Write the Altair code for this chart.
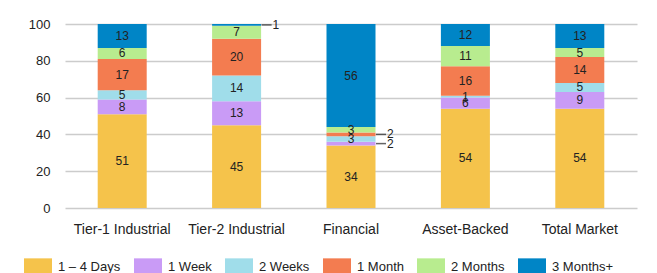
import altair as alt
import pandas as pd

categories = ["Tier-1 Industrial", "Tier-2 Industrial", "Financial", "Asset-Backed", "Total Market"]
series = ["1 – 4 Days", "1 Week", "2 Weeks", "1 Month", "2 Months", "3 Months+"]
colors = ["#F5C34B", "#C99BF6", "#A0DDEA", "#F37C50", "#B8EC8F", "#0085C6"]

days_1_4 = [51, 45, 34, 54, 54]
week_1 = [8, 13, 2, 6, 9]
weeks_2 = [5, 14, 3, 1, 5]
month_1 = [17, 20, 2, 16, 14]
months_2 = [6, 7, 3, 11, 5]
months_3 = [13, 1, 56, 12, 13]
y_ticks = [0, 20, 40, 60, 80, 100]

# (category, series) pairs whose label sits outside the bar with a leader line
outside = [("Tier-2 Industrial", "3 Months+"), ("Financial", "1 Month"), ("Financial", "1 Week")]

values = [days_1_4, week_1, weeks_2, month_1, months_2, months_3]
rows = []
for si, s in enumerate(series):
    for ci, c in enumerate(categories):
        rows.append({"cat": c, "series": s, "value": values[si][ci], "ord": si,
                     "out": 1 if (c, s) in outside else 0})
df = pd.DataFrame(rows)

FONT = "Liberation Sans"
sym = "M-1,-0.65H1V0.65H-1Z"

xaxis = alt.Axis(labelAngle=0, domain=False, ticks=False, labelPadding=14,
                 labelFontSize=14, labelFont=FONT, labelColor="#222", grid=False)
yaxis = alt.Axis(values=y_ticks, domain=False, ticks=False,
                 labelOverlap=False, labelFlush=False,
                 labelPadding=15, labelFontSize=13, labelFont=FONT, labelColor="#222",
                 grid=True, gridColor="#cccccc", gridWidth=1.5)
yscale = alt.Scale(domain=[0, 100], nice=False)
xscale = alt.Scale(paddingInner=0.57, paddingOuter=0.285)

base = alt.Chart(df)

bars = base.mark_bar(size=49).encode(
    x=alt.X("cat:N", sort=categories, title=None, scale=xscale, axis=xaxis),
    y=alt.Y("value:Q", stack="zero", title=None, scale=yscale, axis=yaxis),
    color=alt.Color("series:N", sort=series,
                    scale=alt.Scale(domain=series, range=colors),
                    legend=alt.Legend(title=None, orient="none", direction="horizontal",
                                      legendX=-41, legendY=229, symbolType=sym, symbolSize=784,
                                      symbolStrokeWidth=0, labelFont=FONT, labelFontSize=13,
                                      labelColor="#222", labelOffset=6, columnPadding=13,
                                      columns=6)),
    order=alt.Order("ord:Q"),
)

stacked = base.transform_stack(
    stack="value", as_=["y0", "y1"], groupby=["cat"], sort=[alt.SortField("ord")]
).transform_calculate(mid="(datum.y0 + datum.y1) / 2")

xe = alt.X("cat:N", sort=categories, title=None, scale=xscale, axis=xaxis)
ye = alt.Y("mid:Q", title=None, scale=yscale, axis=yaxis)

inside_text = stacked.transform_filter("datum.out == 0").mark_text(
    font=FONT, fontSize=12, color="#222", baseline="middle"
).encode(x=xe, y=ye, text="value:Q")

leaders = stacked.transform_filter("datum.out == 1").mark_tick(
    xOffset=30, size=10, thickness=1.5, color="#222"
).encode(x=xe, y=ye)

out_text = stacked.transform_filter("datum.out == 1").mark_text(
    font=FONT, fontSize=12, color="#222", baseline="middle", align="left", dx=36
).encode(x=xe, y=ye, text="value:Q")

chart = alt.layer(bars, inside_text, leaders, out_text).properties(
    width=572, height=184,
    padding={"left": 16, "top": 10, "right": 5, "bottom": 5},
).configure_view(stroke=None)

chart.save("out.html", embed_options={"renderer": "svg", "actions": False})
